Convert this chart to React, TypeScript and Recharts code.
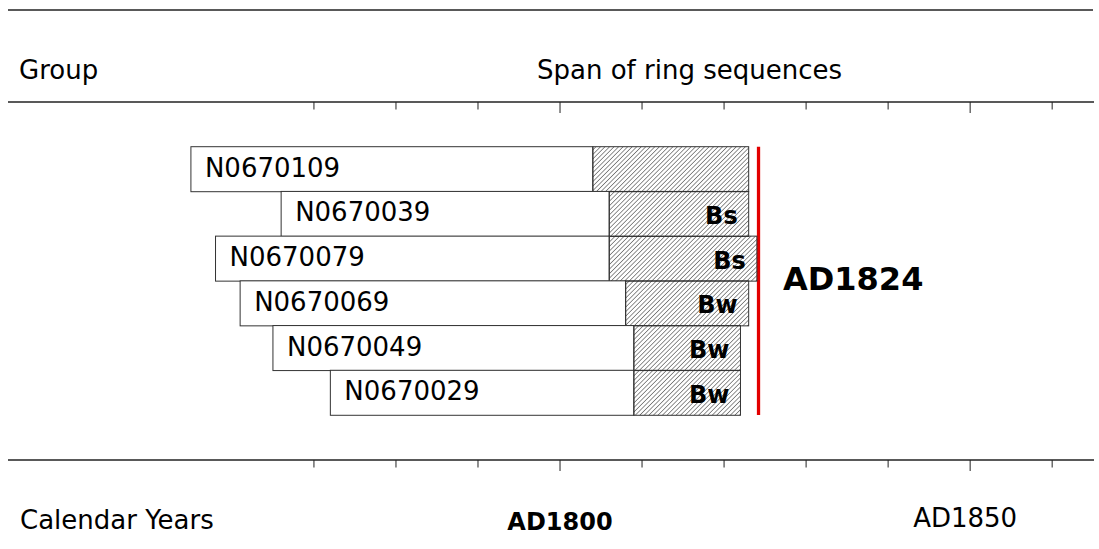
import React from 'react';
import { ComposedChart, Bar, XAxis, YAxis, ReferenceArea } from 'recharts';

const groups = ['N0670109', 'N0670039', 'N0670079', 'N0670069', 'N0670049', 'N0670029'];
const startYears = [1755, 1766, 1758, 1761, 1765, 1772];
const sapwoodStartYears = [1804, 1806, 1806, 1808, 1809, 1809];
const endYears = [1823, 1823, 1824, 1823, 1822, 1822];
const sapwoodLabels = ['', 'Bs', 'Bs', 'Bw', 'Bw', 'Bw'];
const fellingYear = 1824;
const fellingLabel = 'AD1824';
const yearTicks = [1770, 1780, 1790, 1800, 1810, 1820, 1830, 1840, 1850, 1860];
const majorYears = [1800, 1850];
const majorLabels = ['AD1800', 'AD1850'];

const data = groups.map((name, i) => ({
  name,
  start: startYears[i],
  sap: sapwoodStartYears[i],
  end: endYears[i],
  label: sapwoodLabels[i],
  span: [startYears[i], endYears[i]],
}));

const FONT = '"DejaVu Sans", Verdana, sans-serif';
const LINE = '#222';

const BarShape = (props: any) => {
  const { x, y, width, height, payload } = props;
  const hx = x + (width * (payload.sap - payload.start)) / (payload.end - payload.start);
  const cy = y + height / 2;
  return (
    <g>
      <defs>
        <pattern id="hatch" width="3.2" height="3.2" patternUnits="userSpaceOnUse" patternTransform="rotate(45)">
          <line x1="0" y1="0" x2="0" y2="3.2" stroke="#222" strokeWidth="1" />
        </pattern>
      </defs>
      <rect x={x} y={y} width={hx - x} height={height} fill="#fff" stroke="#333" strokeWidth={1} />
      <rect x={hx} y={y} width={x + width - hx} height={height} fill="url(#hatch)" stroke="#333" strokeWidth={1} />
      <text x={x + 14} y={cy + 7.5} fontFamily={FONT} fontSize={26} fill="#000">
        {payload.name}
      </text>
      {payload.label ? (
        <text x={x + width - 11} y={cy + 10} textAnchor="end" fontFamily={FONT} fontWeight="bold" fontSize={24} fill="#000">
          {payload.label}
        </text>
      ) : null}
    </g>
  );
};

const tickLen = (v: number) => (majorYears.includes(v) ? 11 : 7.5);

const TopTick = (props: any) => {
  const { x, y, payload } = props;
  return <line x1={x} x2={x} y1={y} y2={y + tickLen(payload.value)} stroke={LINE} strokeWidth={1} />;
};

const BottomTick = (props: any) => {
  const { x, y, payload } = props;
  const idx = majorYears.indexOf(payload.value);
  return (
    <g>
      <line x1={x} x2={x} y1={y} y2={y + tickLen(payload.value)} stroke={LINE} strokeWidth={1} />
      {idx === 0 ? (
        <text x={x} y={y + 70} textAnchor="middle" fontFamily={FONT} fontWeight="bold" fontSize={24} fill="#000">
          {majorLabels[idx]}
        </text>
      ) : null}
      {idx === 1 ? (
        <text x={x - 5} y={y + 67} textAnchor="middle" fontFamily={FONT} fontSize={26} fill="#000">
          {majorLabels[idx]}
        </text>
      ) : null}
    </g>
  );
};

export default function App() {
  return (
    <div style={{ position: 'absolute', left: 0, top: 0, width: 1099, height: 549, background: '#fff' }}>
      <ComposedChart
        width={1099}
        height={549}
        layout="vertical"
        data={data}
        margin={{ top: 92, right: 5, bottom: 0, left: 8 }}
        barCategoryGap={0}
      >
        <XAxis
          xAxisId="top"
          orientation="top"
          type="number"
          domain={[1732.7, 1865.1]}
          allowDataOverflow
          ticks={yearTicks}
          interval={0}
          height={10}
          tickSize={0}
          tickMargin={0}
          axisLine={{ stroke: LINE, strokeWidth: 1.3 }}
          tickLine={false}
          tick={<TopTick />}
        />
        <XAxis
          xAxisId={0}
          orientation="bottom"
          type="number"
          domain={[1732.7, 1865.1]}
          allowDataOverflow
          ticks={yearTicks}
          interval={0}
          height={89}
          tickSize={0}
          tickMargin={0}
          axisLine={{ stroke: LINE, strokeWidth: 1.3 }}
          tickLine={false}
          tick={<BottomTick />}
        />
        <YAxis
          type="category"
          dataKey="name"
          hide
          width={0}
          padding={{ top: 44.7, bottom: 45 }}
        />
        <Bar dataKey="span" shape={<BarShape />} isAnimationActive={false} />
        <ReferenceArea
          x1={fellingYear}
          x2={fellingYear + 0.4}
          y1={groups[0]}
          y2={groups[groups.length - 1]}
          fill="#e30000"
          fillOpacity={1}
          stroke="none"
          ifOverflow="visible"
        />
      </ComposedChart>
      <svg
        width={1099}
        height={549}
        style={{ position: 'absolute', left: 0, top: 0, pointerEvents: 'none' }}
      >
        <line x1={8} x2={1093} y1={10} y2={10} stroke={LINE} strokeWidth={1.3} />
        <text x={19} y={79} fontFamily={FONT} fontSize={26} fill="#000">Group</text>
        <text x={537} y={79} fontFamily={FONT} fontSize={26} fill="#000">Span of ring sequences</text>
        <text x={20} y={529} fontFamily={FONT} fontSize={26} fill="#000">Calendar Years</text>
        <text x={783} y={290} fontFamily={FONT} fontWeight="bold" fontSize={32} fill="#000">{fellingLabel}</text>
      </svg>
    </div>
  );
}
